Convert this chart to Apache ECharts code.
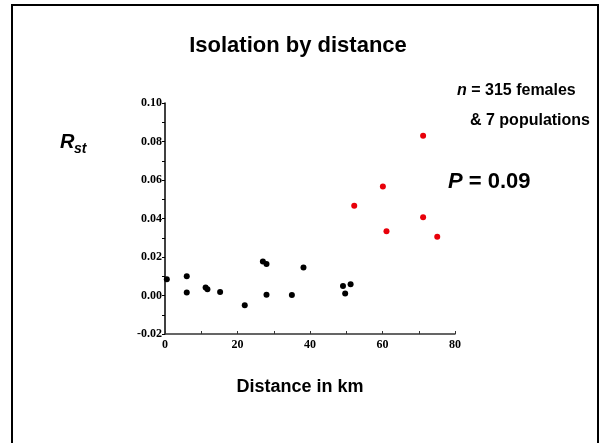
<!DOCTYPE html>
<html>
<head>
<meta charset="utf-8">
<script src="https://cdn.jsdelivr.net/npm/echarts@6/dist/echarts.min.js"></script>
<style>
  html, body { margin: 0; padding: 0; background: #fff; }
  #chart { width: 602px; height: 443px; }
</style>
</head>
<body>
<div id="chart"></div>
<script>
// distance (km) vs Rst, pairs of populations
const distBlack = [0.5, 6, 6, 11.2, 11.7, 15.2, 22, 27, 28, 28, 35, 38.2, 49.1, 49.7, 51.2];
const rstBlack = [0.0085, 0.010, 0.0015, 0.0042, 0.0033, 0.0018, -0.005, 0.0177, 0.0163, 0.0004, 0.0002, 0.0146, 0.005, 0.001, 0.0059];
const distRed = [52.2, 60.1, 61.1, 71.2, 71.2, 75.1];
const rstRed = [0.0466, 0.0566, 0.0334, 0.083, 0.0407, 0.0305];
const xTicks = [0, 20, 40, 60, 80];
const yTicks = [-0.02, 0.00, 0.02, 0.04, 0.06, 0.08, 0.10];

const toPairs = (xs, ys) => xs.map((x, i) => [x, ys[i]]);

const sans = "'Liberation Sans', Arial, sans-serif";
const serif = "'Liberation Serif', 'Times New Roman', serif";

const chart = echarts.init(document.getElementById("chart"));

chart.setOption({
  animation: false,
  backgroundColor: "#fff",
  grid: { left: 165, right: 147, top: 103, bottom: 109 },
  xAxis: {
    type: "value",
    min: xTicks[0],
    max: xTicks[xTicks.length - 1],
    interval: 20,
    splitLine: { show: false },
    axisLine: { onZero: false, lineStyle: { color: "#333", width: 1.5 } },
    axisTick: { show: true, inside: true, length: 3, lineStyle: { color: "#333" } },
    minorTick: { show: true, splitNumber: 2, length: 3, lineStyle: { color: "#333" } },
    axisLabel: {
      margin: 5,
      color: "#000",
      fontFamily: serif,
      fontWeight: "bold",
      fontSize: 12,
    },
  },
  yAxis: {
    type: "value",
    min: yTicks[0],
    max: yTicks[yTicks.length - 1],
    interval: 0.02,
    splitLine: { show: false },
    axisLine: { onZero: false, lineStyle: { color: "#000", width: 1.5 } },
    axisTick: { show: true, length: 3, lineStyle: { color: "#000" } },
    minorTick: { show: true, splitNumber: 2, length: 3, lineStyle: { color: "#000" } },
    axisLabel: {
      margin: 3,
      color: "#000",
      fontFamily: serif,
      fontWeight: "bold",
      fontSize: 12,
      formatter: (v) => v.toFixed(2),
    },
  },
  series: [
    {
      type: "scatter",
      symbolSize: 6,
      itemStyle: { color: "#000", opacity: 1 },
      data: toPairs(distBlack, rstBlack),
    },
    {
      type: "scatter",
      symbolSize: 6,
      itemStyle: { color: "#e8000a", opacity: 1 },
      data: toPairs(distRed, rstRed),
    },
  ],
  graphic: [
    // frame around the slide
    {
      type: "rect",
      shape: { x: 12, y: 5, width: 586, height: 460 },
      style: { fill: "none", stroke: "#000", lineWidth: 2 },
      silent: true,
    },
    {
      type: "text",
      x: 298,
      y: 46,
      style: {
        text: "Isolation by distance",
        fontFamily: sans,
        fontWeight: "bold",
        fontSize: 22,
        fill: "#000",
        align: "center",
        verticalAlign: "middle",
      },
    },
    {
      type: "text",
      x: 60,
      y: 142,
      style: {
        text: "R",
        fontFamily: sans,
        fontWeight: "bold",
        fontStyle: "italic",
        fontSize: 20,
        fill: "#000",
        align: "left",
        verticalAlign: "middle",
      },
    },
    {
      type: "text",
      x: 74,
      y: 149,
      style: {
        text: "st",
        fontFamily: sans,
        fontWeight: "bold",
        fontStyle: "italic",
        fontSize: 14,
        fill: "#000",
        align: "left",
        verticalAlign: "middle",
      },
    },
    {
      type: "text",
      x: 457,
      y: 91,
      style: {
        text: "{i|n} = 315 females",
        fontFamily: sans,
        fontWeight: "bold",
        fontSize: 16,
        fill: "#000",
        align: "left",
        verticalAlign: "middle",
        rich: {
          i: { fontFamily: sans, fontWeight: "bold", fontStyle: "italic", fontSize: 16, fill: "#000" },
        },
      },
    },
    {
      type: "text",
      x: 470,
      y: 121,
      style: {
        text: "& 7 populations",
        fontFamily: sans,
        fontWeight: "bold",
        fontSize: 16,
        fill: "#000",
        align: "left",
        verticalAlign: "middle",
      },
    },
    {
      type: "text",
      x: 448,
      y: 182,
      style: {
        text: "{i|P} = 0.09",
        fontFamily: sans,
        fontWeight: "bold",
        fontSize: 22,
        fill: "#000",
        align: "left",
        verticalAlign: "middle",
        rich: {
          i: { fontFamily: sans, fontWeight: "bold", fontStyle: "italic", fontSize: 22, fill: "#000" },
        },
      },
    },
    {
      type: "text",
      x: 300,
      y: 387,
      style: {
        text: "Distance in km",
        fontFamily: sans,
        fontWeight: "bold",
        fontSize: 18,
        fill: "#000",
        align: "center",
        verticalAlign: "middle",
      },
    },
  ],
});
</script>
</body>
</html>
